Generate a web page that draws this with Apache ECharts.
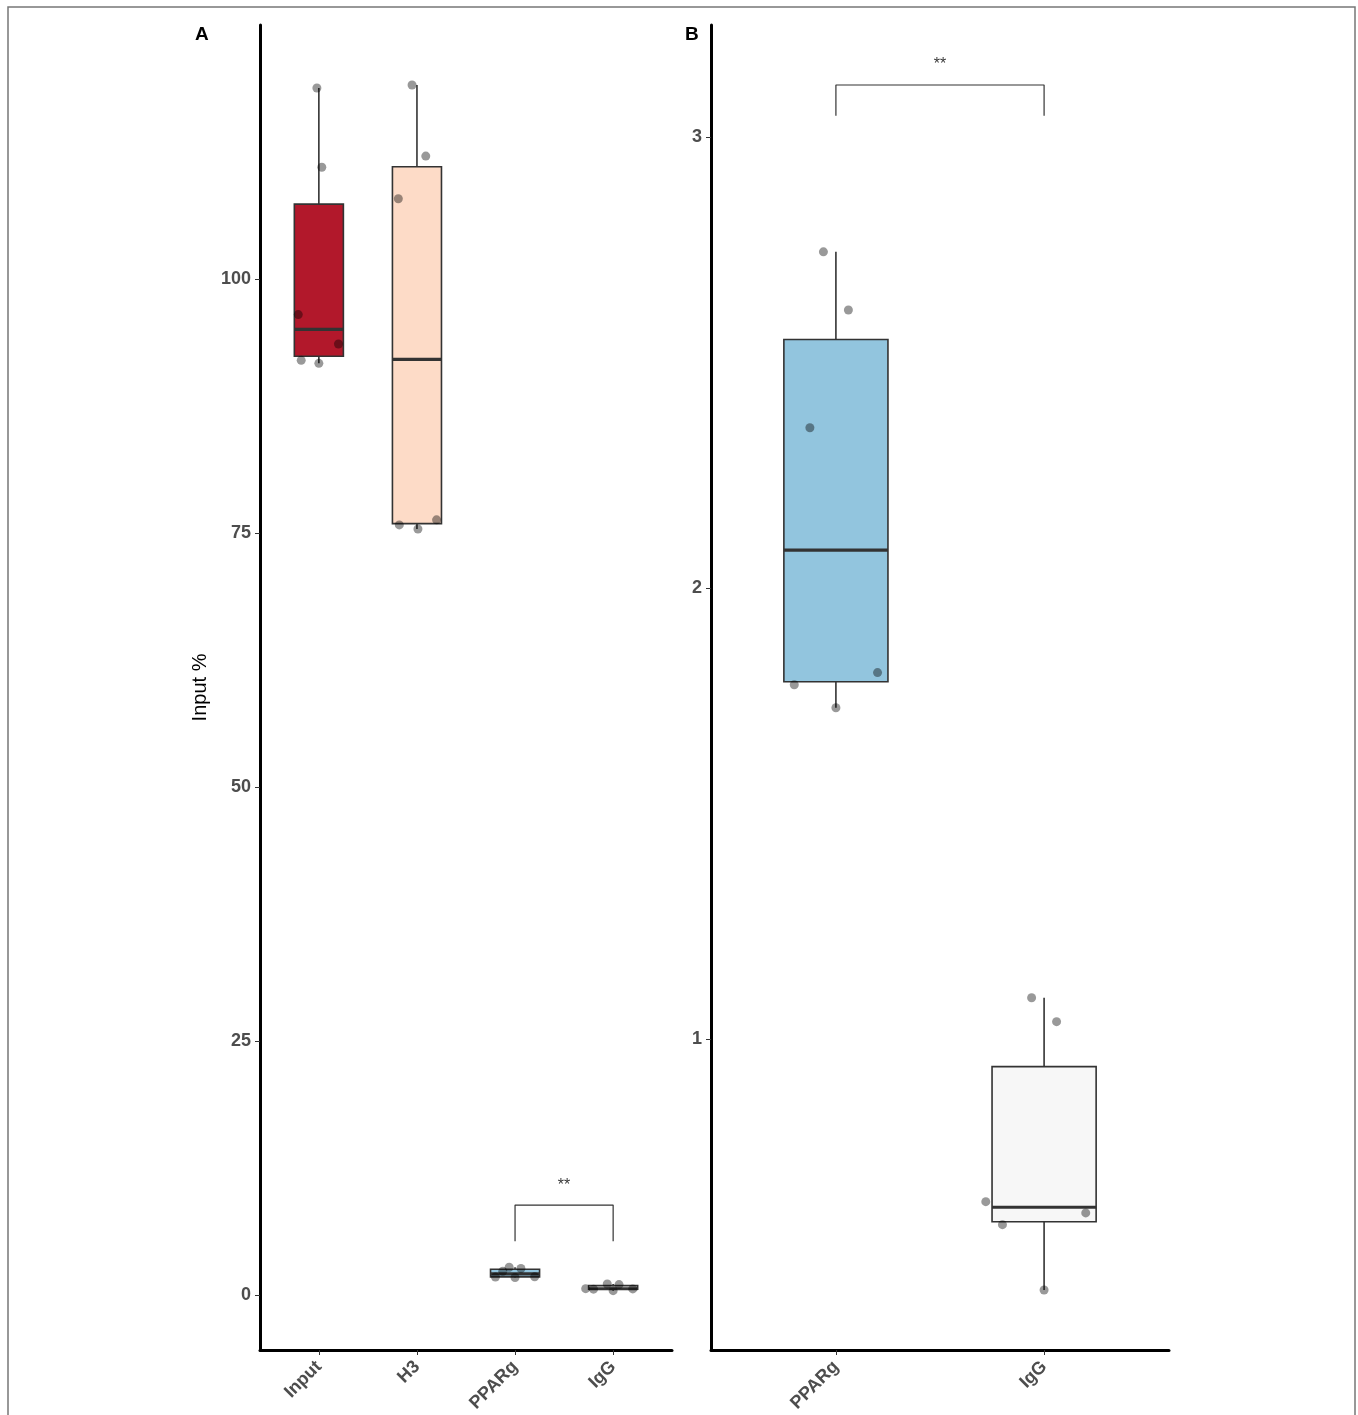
<!DOCTYPE html>
<html>
<head>
<meta charset="utf-8">
<script src="https://cdn.jsdelivr.net/npm/echarts@6/dist/echarts.min.js"></script>
<style>
  html, body { margin: 0; padding: 0; background: #fff; }
  #chart { width: 1358px; height: 1415px; }
</style>
</head>
<body>
<div id="chart"></div>
<script>
// categories
const catsA = ['Input', 'H3', 'PPARg', 'IgG'];
const catsB = ['PPARg', 'IgG'];

// replicate values (Input %)
const inputVals = [118.8, 111.0, 96.5, 93.6, 92.0, 91.7];
const h3Vals = [119.1, 112.1, 107.9, 76.3, 75.8, 75.4];
const ppargVals = [2.745, 2.616, 2.355, 1.812, 1.785, 1.734];
const iggVals = [1.091, 1.038, 0.639, 0.614, 0.588, 0.443];

// jitter offsets (category units), one per point
const inputJitter = [-0.02, 0.03, -0.21, 0.2, -0.18, 0];
const h3Jitter = [-0.05, 0.09, -0.19, 0.2, -0.18, 0.01];
const ppargJitter = [-0.06, 0.06, -0.125, 0.2, -0.2, 0];
const iggJitter = [-0.06, 0.06, -0.28, 0.2, -0.2, 0];

// tick labels
const ticksA = [0, 25, 50, 75, 100];
const ticksB = [1, 2, 3];

// significance brackets: [fromCat, toCat, barY, tipY, labelY]
const sigA = [3, 4, 8.86, 5.3, 10.8];
const sigB = [1, 2, 3.115, 3.047, 3.16];

const boxColors = { Input: '#b2182b', H3: '#fddbc7', PPARg: '#92c5de', IgG: '#f7f7f7' };
const valsOf = { Input: inputVals, H3: h3Vals, PPARg: ppargVals, IgG: iggVals };
const jitOf = { Input: inputJitter, H3: h3Jitter, PPARg: ppargJitter, IgG: iggJitter };

// R type-7 quantile
function quantile (arr, p) {
  const a = arr.slice().sort((x, y) => x - y);
  const h = (a.length - 1) * p;
  const lo = Math.floor(h);
  const e = h - lo;
  return e ? a[lo] + e * (a[lo + 1] - a[lo]) : a[lo];
}
function boxStats (arr) {
  const q1 = quantile(arr, 0.25);
  const q3 = quantile(arr, 0.75);
  const iqr = q3 - q1;
  const inside = arr.filter(v => v >= q1 - 1.5 * iqr && v <= q3 + 1.5 * iqr);
  return [Math.min(...inside), q1, quantile(arr, 0.5), q3, Math.max(...inside)];
}

const boxHalf = 0.25;
const FONT = '"Liberation Sans", Arial, sans-serif';

function renderBox (params, api) {
  const x = api.value(0);
  const mn = api.value(1), q1 = api.value(2), md = api.value(3), q3 = api.value(4), mx = api.value(5);
  const color = api.value(6);
  const pTop = api.coord([x, mx]);
  const pQ3 = api.coord([x, q3]);
  const pQ1 = api.coord([x, q1]);
  const pBot = api.coord([x, mn]);
  const left = api.coord([x - boxHalf, q3])[0];
  const right = api.coord([x + boxHalf, q3])[0];
  const pMed = api.coord([x, md]);
  const ls = { stroke: '#333333', lineWidth: 1.6 };
  return {
    type: 'group',
    children: [
      { type: 'line', shape: { x1: pTop[0], y1: pTop[1], x2: pQ3[0], y2: pQ3[1] }, style: ls },
      { type: 'line', shape: { x1: pQ1[0], y1: pQ1[1], x2: pBot[0], y2: pBot[1] }, style: ls },
      { type: 'rect', shape: { x: left, y: pQ3[1], width: right - left, height: pQ1[1] - pQ3[1] },
        style: { fill: color, stroke: '#333333', lineWidth: 1.6 } },
      { type: 'line', shape: { x1: left, y1: pMed[1], x2: right, y2: pMed[1] },
        style: { stroke: '#333333', lineWidth: 3.2 } }
    ]
  };
}

function boxData (cats) {
  return cats.map((c, i) => [i + 1].concat(boxStats(valsOf[c]), [boxColors[c]]));
}
function pointData (cats) {
  const out = [];
  cats.forEach((c, i) => {
    valsOf[c].forEach((v, j) => out.push([i + 1 + jitOf[c][j], v]));
  });
  return out;
}
function bracketData (s) {
  return [[s[0], s[3]], [s[0], s[2]], [s[1], s[2]], [s[1], s[3]]];
}

const axisLineStyle = { show: true, onZero: false, lineStyle: { color: '#000', width: 3 } };
const tickStyle = { show: true, length: 5, lineStyle: { color: '#333', width: 1 } };
const labelStyle = { color: '#4d4d4d', fontWeight: 'bold', fontSize: 18, fontFamily: FONT };

function xAxisFor (gi, cats) {
  const vals = cats.map((c, i) => i + 1);
  return {
    type: 'value', gridIndex: gi, min: 0.4, max: cats.length + 0.6,
    axisLine: axisLineStyle,
    axisTick: Object.assign({ customValues: vals }, tickStyle),
    axisLabel: Object.assign({ customValues: vals, rotate: 45, margin: 14,
      formatter: v => cats[Math.round(v) - 1] || '' }, labelStyle),
    splitLine: { show: false }
  };
}
function yAxisFor (gi, min, max, ticks, name) {
  return {
    type: 'value', gridIndex: gi, min: min, max: max,
    name: name, nameLocation: 'middle', nameGap: 50,
    nameTextStyle: { color: '#000', fontSize: 20, fontFamily: FONT },
    axisLine: axisLineStyle,
    axisTick: Object.assign({ customValues: ticks }, tickStyle),
    axisLabel: Object.assign({ customValues: ticks, margin: 9 }, labelStyle),
    splitLine: { show: false }
  };
}

const chart = echarts.init(document.getElementById('chart'));
const option = {
  backgroundColor: '#fff',
  animation: false,
  grid: [
    { left: 260, top: 25, width: 412, height: 1325 },
    { left: 711, top: 25, width: 458, height: 1325 }
  ],
  xAxis: [xAxisFor(0, catsA), xAxisFor(1, catsB)],
  yAxis: [
    yAxisFor(0, -5.4, 125.0, ticksA, 'Input %'),
    yAxisFor(1, 0.31, 3.248, ticksB, '')
  ],
  graphic: [
    { type: 'rect', shape: { x: 8, y: 7, width: 1347, height: 1420 },
      style: { fill: 'none', stroke: '#777', lineWidth: 1.5 }, silent: true },
    { type: 'text', left: 195, top: 25, style: { text: 'A', font: 'bold 19px ' + FONT, fill: '#000' } },
    { type: 'text', left: 685, top: 25, style: { text: 'B', font: 'bold 19px ' + FONT, fill: '#000' } }
  ],
  series: [
    { type: 'custom', xAxisIndex: 0, yAxisIndex: 0, renderItem: renderBox, data: boxData(catsA), z: 2 },
    { type: 'custom', xAxisIndex: 1, yAxisIndex: 1, renderItem: renderBox, data: boxData(catsB), z: 2 },
    { type: 'scatter', xAxisIndex: 0, yAxisIndex: 0, data: pointData(catsA), symbolSize: 9,
      itemStyle: { color: 'rgba(0,0,0,0.5)' }, z: 3 },
    { type: 'scatter', xAxisIndex: 1, yAxisIndex: 1, data: pointData(catsB), symbolSize: 9,
      itemStyle: { color: 'rgba(0,0,0,0.5)' }, z: 3 },
    { type: 'line', xAxisIndex: 0, yAxisIndex: 0, data: bracketData(sigA), showSymbol: false,
      lineStyle: { color: '#333', width: 1.2 }, z: 3 },
    { type: 'line', xAxisIndex: 1, yAxisIndex: 1, data: bracketData(sigB), showSymbol: false,
      lineStyle: { color: '#333', width: 1.2 }, z: 3 },
    { type: 'scatter', xAxisIndex: 0, yAxisIndex: 0, data: [[(sigA[0] + sigA[1]) / 2, sigA[4]]],
      symbolSize: 0, label: { show: true, position: 'inside', formatter: '**',
        color: '#000', fontSize: 16, fontFamily: FONT } },
    { type: 'scatter', xAxisIndex: 1, yAxisIndex: 1, data: [[(sigB[0] + sigB[1]) / 2, sigB[4]]],
      symbolSize: 0, label: { show: true, position: 'inside', formatter: '**',
        color: '#000', fontSize: 16, fontFamily: FONT } }
  ]
};
chart.setOption(option);
</script>
</body>
</html>
